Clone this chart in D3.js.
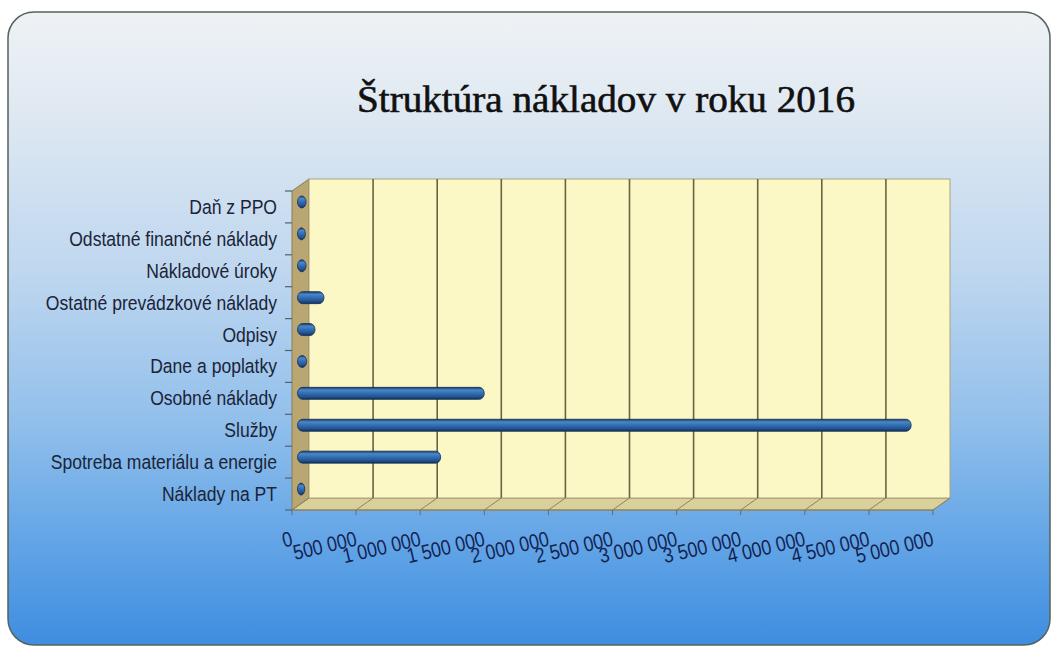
<!DOCTYPE html>
<html>
<head>
<meta charset="utf-8">
<script src="https://cdn.jsdelivr.net/npm/d3@7"></script>
<style>
  body { margin: 0; background: #fff; }
  svg { display: block; }
</style>
</head>
<body>
<div id="chart-area"></div>
<script>
const categories = [
    'Daň z PPO',
    'Odstatné finančné náklady',
    'Nákladové úroky',
    'Ostatné prevádzkové náklady',
    'Odpisy',
    'Dane a poplatky',
    'Osobné náklady',
    'Služby',
    'Spotreba materiálu a energie',
    'Náklady na PT'
];
const values = [20000, 15000, 20000, 160000, 90000, 25000, 1410000, 4740000, 1070000, 10000];
const xTicks = [0, 500000, 1000000, 1500000, 2000000, 2500000, 3000000, 3500000, 4000000, 4500000, 5000000];
const title = 'Štruktúra nákladov v roku 2016';

const W = 1056, H = 648;
// 3d depth offset of the chart box
const dx = -17, dy = 12;
const back = {left: 309, right: 950, top: 179, bottom: 498};

// no narrow font installed, so squeeze Liberation Sans horizontally
const sans = '"Liberation Sans", Arial, sans-serif';
const fmt = d3.formatLocale({decimal: ',', thousands: ' ', grouping: [3], currency: ['', '']}).format(',');

const svg = d3.select('#chart-area')
    .append('svg')
    .attr('width', W)
    .attr('height', H);

const defs = svg.append('defs');

const bg = defs.append('linearGradient')
    .attr('id', 'bg')
    .attr('x1', 0).attr('y1', 0).attr('x2', 0).attr('y2', 1);
[[0, '#eef2f5'], [0.15, '#e0e9f2'], [0.42, '#bdd6ef'], [0.65, '#91bfeb'], [0.82, '#66a7e7'], [1, '#3f8de0']]
    .forEach(s => bg.append('stop').attr('offset', s[0]).attr('stop-color', s[1]));

const barGrad = defs.append('linearGradient')
    .attr('id', 'bar')
    .attr('x1', 0).attr('y1', 0).attr('x2', 0).attr('y2', 1);
[[0, '#18365f'], [0.22, '#4b87c8'], [0.45, '#3572b8'], [0.8, '#21528f'], [1, '#132c52']]
    .forEach(s => barGrad.append('stop').attr('offset', s[0]).attr('stop-color', s[1]));

// panel
svg.append('rect')
    .attr('x', 8).attr('y', 12)
    .attr('width', 1042).attr('height', 633)
    .attr('rx', 26)
    .attr('fill', 'url(#bg)')
    .attr('stroke', '#56635e')
    .attr('stroke-width', 1.5);

svg.append('text')
    .attr('x', 606)
    .attr('y', 112)
    .attr('text-anchor', 'middle')
    .attr('font-family', '"Palatino Linotype", "Book Antiqua", "Liberation Serif", serif')
    .attr('font-size', '37px')
    .attr('textLength', 498)
    .attr('lengthAdjust', 'spacingAndGlyphs')
    .attr('fill', '#111')
    .attr('stroke', '#111')
    .attr('stroke-width', 0.6)
    .text(title);

const xBack = d3.scaleLinear().domain([0, 5000000]).range([back.left, back.right]);
const xFront = d3.scaleLinear().domain([0, 5000000]).range([back.left + dx, back.right + dx]);
const xMid = d3.scaleLinear().domain([0, 5000000]).range([back.left + dx / 2, back.right + dx / 2]);
const yFront = d3.scaleBand().domain(categories).range([back.top + dy, back.bottom + dy]);

const g = svg.append('g');

// side wall
g.append('polygon')
    .attr('points', [[back.left, back.top], [back.left + dx, back.top + dy], [back.left + dx, back.bottom + dy], [back.left, back.bottom]].join(' '))
    .attr('fill', '#baa673')
    .attr('stroke', '#8a7c55')
    .attr('stroke-width', 1);

// floor
g.append('polygon')
    .attr('points', [[back.left, back.bottom], [back.right, back.bottom], [back.right + dx, back.bottom + dy], [back.left + dx, back.bottom + dy]].join(' '))
    .attr('fill', '#d9d09c')
    .attr('stroke', '#9a9068')
    .attr('stroke-width', 1);

// back wall
g.append('rect')
    .attr('x', back.left).attr('y', back.top)
    .attr('width', back.right - back.left)
    .attr('height', back.bottom - back.top)
    .attr('fill', '#fcf8c6')
    .attr('stroke', '#aaa27c')
    .attr('stroke-width', 1);

// gridlines on back wall and floor
const inner = xTicks.filter(t => t > 0 && t < 5000000);
g.selectAll('.grid')
    .data(inner)
    .enter().append('line')
    .attr('class', 'grid')
    .attr('x1', d => xBack(d)).attr('x2', d => xBack(d))
    .attr('y1', back.top).attr('y2', back.bottom)
    .attr('stroke', '#6a6342')
    .attr('stroke-width', 1.6);

g.selectAll('.floorline')
    .data(xTicks)
    .enter().append('line')
    .attr('class', 'floorline')
    .attr('x1', d => xBack(d)).attr('x2', d => xFront(d))
    .attr('y1', back.bottom).attr('y2', back.bottom + dy)
    .attr('stroke', '#8d845c')
    .attr('stroke-width', 1);

// front edge with ticks
g.append('line')
    .attr('x1', xFront(0)).attr('x2', xFront(5000000))
    .attr('y1', back.bottom + dy).attr('y2', back.bottom + dy)
    .attr('stroke', '#857c58')
    .attr('stroke-width', 1.2);

g.selectAll('.xtick')
    .data(xTicks)
    .enter().append('line')
    .attr('class', 'xtick')
    .attr('x1', d => xFront(d)).attr('x2', d => xFront(d))
    .attr('y1', back.bottom + dy).attr('y2', back.bottom + dy + 5)
    .attr('stroke', '#6a6a6a');

// category ticks
const bounds = categories.map(c => yFront(c)).concat([back.bottom + dy]);
g.selectAll('.ytick')
    .data(bounds)
    .enter().append('line')
    .attr('class', 'ytick')
    .attr('x1', back.left + dx - 7).attr('x2', back.left + dx)
    .attr('y1', d => d).attr('y2', d => d)
    .attr('stroke', '#556070')
    .attr('stroke-width', 1.2);

// bars (cylinders at mid depth)
const barH = 12;
g.selectAll('.bar')
    .data(values)
    .enter().append('rect')
    .attr('class', 'bar')
    .attr('x', xMid(0) - 3)
    .attr('y', (d, i) => yFront(categories[i]) + yFront.bandwidth() / 2 - dy / 2 - barH / 2 + 1)
    .attr('width', d => xMid(d) - xMid(0) + 6)
    .attr('height', barH)
    .attr('rx', 5).attr('ry', 6)
    .attr('fill', 'url(#bar)')
    .attr('stroke', '#143059')
    .attr('stroke-width', 0.8);

// category labels
g.selectAll('.cat')
    .data(categories)
    .enter().append('text')
    .attr('class', 'cat')
    .attr('transform', d => 'translate(277, ' + (yFront(d) + yFront.bandwidth() / 2) + ') scale(0.9, 1)')
    .attr('dy', '0.36em')
    .attr('text-anchor', 'end')
    .attr('font-family', sans)
    .attr('font-size', '19.5px')
    .attr('fill', '#1b2438')
    .text(d => d);

// value labels, slightly rotated
g.selectAll('.xlab')
    .data(xTicks)
    .enter().append('text')
    .attr('class', 'xlab')
    .attr('transform', d => 'translate(' + xFront(d) + ', 538) rotate(-13) scale(0.85, 1)')
    .attr('dy', '0.36em')
    .attr('text-anchor', 'end')
    .attr('font-family', sans)
    .attr('font-size', '21px')
    .attr('fill', '#142350')
    .text(d => fmt(d));
</script>
</body>
</html>
